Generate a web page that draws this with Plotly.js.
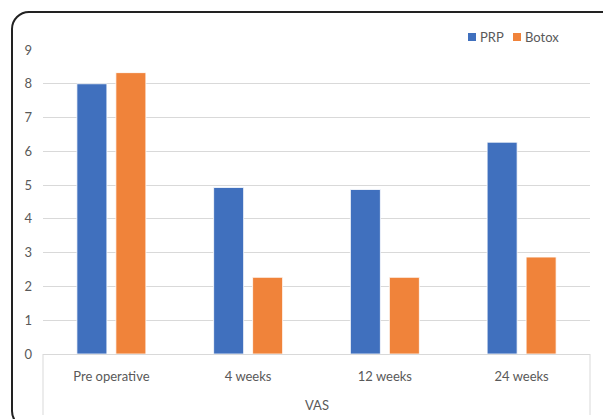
<!DOCTYPE html>
<html>
<head>
<meta charset="utf-8">
<script src="https://cdn.plot.ly/plotly-3.0.1.min.js"></script>
<style>
  html, body { margin:0; padding:0; background:#fff; overflow:hidden; }
  #wrap { position:relative; width:603px; height:419px; overflow:hidden; }
  #frame { position:absolute; left:11px; top:11px; width:620px; height:418px;
           border:2px solid #222; border-radius:18px; box-sizing:border-box; pointer-events:none; z-index:5; }
  #chart { position:absolute; left:0; top:0; width:603px; height:419px; }
</style>
</head>
<body>
<div id="wrap">
  <div id="chart"></div>
  <div id="frame"></div>
</div>
<script>
const categories = ['Pre operative', '4 weeks', '12 weeks', '24 weeks'];
const seriesNames = ['PRP', 'Botox'];
const prpValues = [8.0, 4.93, 4.87, 6.27];
const botoxValues = [8.33, 2.27, 2.27, 2.87];
const yTicks = [0, 1, 2, 3, 4, 5, 6, 7, 8, 9];
const groupLabel = 'VAS';

const colors = ['#4070BE', '#F0833A'];
const W = 603, H = 419;
const M = {l: 43, r: 13, t: 50, b: 65};
const pw = W - M.l - M.r, ph = H - M.t - M.b;
const px2x = p => (p - M.l) / pw;
const px2y = p => (H - M.b - p) / ph;

const traces = [prpValues, botoxValues].map((vals, i) => ({
  type: 'bar', name: seriesNames[i], x: categories, y: vals,
  marker: {color: colors[i], line: {color: '#ffffff', width: 0.8}},
  showlegend: false, hoverinfo: 'x+y'
}));

const fontFam = 'Lato, "Open Sans", sans-serif';
const shapes = [
  {type:'line', xref:'paper', yref:'paper', x0:0, x1:0, y0:0, y1:px2y(415), line:{color:'#D9D9D9', width:1}},
  {type:'line', xref:'paper', yref:'paper', x0:1, x1:1, y0:0, y1:px2y(415), line:{color:'#D9D9D9', width:1}}
];
const annotations = [
  {xref:'paper', yref:'paper', x:0.5, y:px2y(405), text:groupLabel, showarrow:false,
   xanchor:'center', yanchor:'middle', font:{family:fontFam, size:13, color:'#595959'}}
];
// custom legend
const legendX = [468, 513];
seriesNames.forEach((n, i) => {
  shapes.push({type:'rect', xref:'paper', yref:'paper', x0:px2x(legendX[i]), x1:px2x(legendX[i]+8),
    y0:px2y(41), y1:px2y(33), fillcolor:colors[i], line:{width:0}});
  annotations.push({xref:'paper', yref:'paper', x:px2x(legendX[i]+10), y:px2y(37), text:n, showarrow:false,
    xanchor:'left', yanchor:'middle', font:{family:fontFam, size:13, color:'#595959'}});
});

const layout = {
  width: W, height: H,
  margin: M,
  paper_bgcolor: '#ffffff', plot_bgcolor: '#ffffff',
  font: {family: fontFam, size: 13, color: '#595959'},
  barmode: 'group', bargap: 0.43, bargroupgap: 0.23,
  showlegend: false,
  xaxis: {type:'category', showgrid:false, showline:true, linecolor:'#D9D9D9', linewidth:1,
          ticks:'', tickfont:{family:fontFam, size:13, color:'#595959'}, ticklabelstandoff: 10, fixedrange:true},
  yaxis: {range:[0, 9], tickvals:yTicks, showgrid:true, gridcolor:'#D9D9D9', gridwidth:1,
          zeroline:false, showline:false, ticks:'', ticklabelstandoff: 10,
          tickfont:{family:fontFam, size:13, color:'#595959'}, fixedrange:true},
  shapes: shapes,
  annotations: annotations
};

Plotly.newPlot('chart', traces, layout, {displayModeBar:false, staticPlot:true});
</script>
</body>
</html>
